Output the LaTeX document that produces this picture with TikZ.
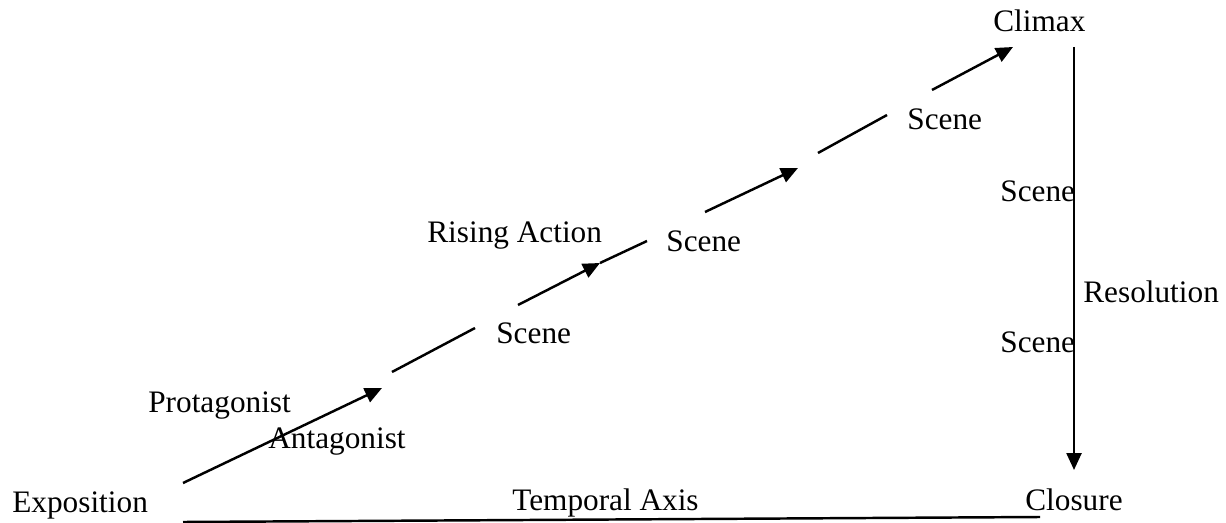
\documentclass[tikz,border=0pt]{standalone}
\usepackage{fontspec}
\setmainfont{Liberation Serif}
\usetikzlibrary{arrows.meta}

\begin{document}
\begin{tikzpicture}[x=0.02cm,y=-0.02cm,
    lbl/.style={anchor=base west,inner sep=0pt,font=\fontsize{17.8}{21}\selectfont},
    seg/.style={black,line width=1.4pt},
    arr/.style={seg,-{Triangle[length=0.34cm,width=0.3cm]}}]
  \useasboundingbox (0,0) rectangle (1226,523);
  % Labels along the rising action
  \node[lbl] (expo)    at (12,512)   {Exposition};
  \node[lbl] (axis)    at (512,510)  {Temporal Axis};
  \node[lbl] (closure) at (1025,510) {Closure};
  \node[lbl] (climax)  at (993,32)   {Climax};
  \node[lbl] (prot)    at (148,412)  {Protagonist};
  \node[lbl] (antag)   at (268,448)  {Antagonist};
  \node[lbl] (rising)  at (427,243)  {Rising Action};
  \node[lbl] (sceneA)  at (496,343)  {Scene};
  \node[lbl] (sceneB)  at (666,252)  {Scene};
  \node[lbl] (sceneC)  at (907,130)  {Scene};
  % Right-hand side, the falling part
  \node[lbl] (sceneD)  at (1000,202) {Scene};
  \node[lbl] (resol)   at (1083,302) {Resolution};
  \node[lbl] (sceneE)  at (1000,352) {Scene};
  % end points of the broken rising line
  \coordinate (r0)  at (183,483);
  \coordinate (r1)  at (382,388);
  \coordinate (r2)  at (392,372);
  \coordinate (r3)  at (475,328);
  \coordinate (r4)  at (518,305);
  \coordinate (r5)  at (600,263);
  \coordinate (r6)  at (647,241);
  \coordinate (r7)  at (705,212);
  \coordinate (r8)  at (798,168);
  \coordinate (r9)  at (818,153);
  \coordinate (r10) at (887,115);
  \coordinate (r11) at (932,90);
  \coordinate (r12) at (1013,47);
  \coordinate (top) at (1074,47);
  \coordinate (bot) at (1074,470);
  \coordinate (a0)  at (183,522);
  \coordinate (a1)  at (1040,517);
  \draw[arr] (r0) -- (r1);
  \draw[seg] (r2) -- (r3);
  \draw[arr] (r4) -- (r5);
  \draw[seg] (r5) -- (r6);
  \draw[arr] (r7) -- (r8);
  \draw[seg] (r9) -- (r10);
  \draw[arr] (r11) -- (r12);
  \draw[arr] (top) -- (bot);
  \draw[seg] (a0) -- (a1); % temporal axis
\end{tikzpicture}
\end{document}
